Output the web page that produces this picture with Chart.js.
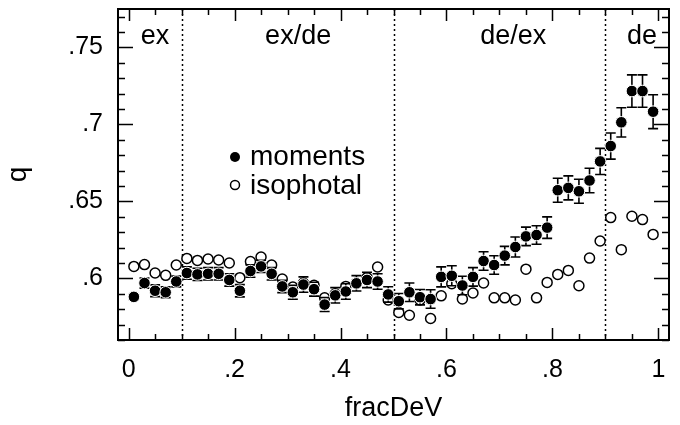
<!DOCTYPE html>
<html>
<head>
<meta charset="utf-8">
<title>q vs fracDeV</title>
<script src="https://cdn.jsdelivr.net/npm/chart.js@4.4.1/dist/chart.umd.min.js"></script>
<style>
  html, body { margin: 0; padding: 0; background: #fff; }
  #wrap { width: 680px; height: 425px; }
</style>
</head>
<body>
<div id="wrap"><canvas id="chart" width="680" height="425"></canvas></div>
<script>
// --- data ---
const fracDeV = [0.01, 0.03, 0.05, 0.07, 0.09, 0.11, 0.13, 0.15, 0.17, 0.19,
                 0.21, 0.23, 0.25, 0.27, 0.29, 0.31, 0.33, 0.35, 0.37, 0.39,
                 0.41, 0.43, 0.45, 0.47, 0.49, 0.51, 0.53, 0.55, 0.57, 0.59,
                 0.61, 0.63, 0.65, 0.67, 0.69, 0.71, 0.73, 0.75, 0.77, 0.79,
                 0.81, 0.83, 0.85, 0.87, 0.89, 0.91, 0.93, 0.95, 0.97, 0.99];

const qMoments = [0.588, 0.597, 0.592, 0.591, 0.598, 0.6035, 0.6026, 0.603, 0.603, 0.599,
                  0.592, 0.6048, 0.6078, 0.603, 0.5948, 0.591, 0.596, 0.593, 0.583, 0.589,
                  0.5915, 0.5968, 0.599, 0.598, 0.5896, 0.5852, 0.591, 0.5878, 0.5866, 0.601,
                  0.6017, 0.5954, 0.601, 0.6113, 0.6087, 0.6148, 0.6204, 0.6273, 0.6282, 0.633,
                  0.6573, 0.6588, 0.6566, 0.6636, 0.676, 0.686, 0.7014, 0.7217, 0.7217, 0.7083];

const qMomentsErr = [0.002, 0.0033, 0.0038, 0.0035, 0.0035, 0.004, 0.004, 0.004, 0.004, 0.004,
                     0.004, 0.004, 0.004, 0.004, 0.004, 0.0045, 0.005, 0.0045, 0.0045, 0.005,
                     0.005, 0.005, 0.005, 0.005, 0.005, 0.005, 0.006, 0.005, 0.006, 0.0065,
                     0.0065, 0.006, 0.006, 0.006, 0.006, 0.006, 0.0065, 0.006, 0.006, 0.007,
                     0.0078, 0.0078, 0.0078, 0.008, 0.0085, 0.0085, 0.0095, 0.0105, 0.0105, 0.011];

const qIsophotal = [0.6078, 0.609, 0.6035, 0.602, 0.6087, 0.613, 0.6117, 0.6126, 0.612, 0.610,
                    0.6005, 0.611, 0.6139, 0.6087, 0.5996, 0.5944, 0.597, 0.5955, 0.5874, 0.590,
                    0.5948, 0.597, 0.6005, 0.6074, 0.586, 0.5779, 0.5761, 0.586, 0.574, 0.5887,
                    0.5965, 0.5866, 0.5905, 0.597, 0.5874, 0.5874, 0.586, 0.606, 0.5874, 0.5974,
                    0.6026, 0.6052, 0.5952, 0.6132, 0.6243, 0.6395, 0.6187, 0.6404, 0.6382, 0.6286];

const xTicks = [0, 0.2, 0.4, 0.6, 0.8, 1];
const yTicks = [0.6, 0.65, 0.7, 0.75];
const regionBounds = [0.1, 0.5, 0.9];
const regionLabels = ['ex', 'ex/de', 'de/ex', 'de'];
const regionLabelX = [0.05, 0.32, 0.726, 0.969];
const seriesNames = ['moments', 'isophotal'];

const FONT = '"Liberation Sans", Arial, Helvetica, sans-serif';

// ".65" style labels, no leading zero
function fmtTick(v) {
    return String(+Number(v).toFixed(2)).replace(/^0\./, '.');
}

// Frame, inward ticks, dotted region lines, region names, legend, error bars
const decorPlugin = {
    id: 'decor',
    beforeDatasetsDraw(chart) {
        const { ctx, chartArea: a, scales: { x } } = chart;
        ctx.save();
        ctx.strokeStyle = '#000';
        ctx.lineWidth = 1.5;
        ctx.setLineDash([2, 3]);
        regionBounds.forEach(b => {
            const px = Math.round(x.getPixelForValue(b)) + 0.5;
            ctx.beginPath();
            ctx.moveTo(px, a.top);
            ctx.lineTo(px, a.bottom);
            ctx.stroke();
        });
        ctx.setLineDash([]);
        ctx.fillStyle = '#000';
        ctx.font = '27px ' + FONT;
        ctx.textAlign = 'center';
        ctx.textBaseline = 'alphabetic';
        regionLabels.forEach((t, i) => {
            ctx.fillText(t, x.getPixelForValue(regionLabelX[i]), a.top + 35);
        });
        ctx.restore();
    },
    afterDatasetDraw(chart, args) {
        // error bars go on top of the open circles, under the filled ones
        if (args.index !== 1) return;
        const { ctx, scales: { x, y } } = chart;
        ctx.save();
        ctx.strokeStyle = '#000';
        ctx.lineWidth = 1.6;
        fracDeV.forEach((f, i) => {
            const px = x.getPixelForValue(f);
            const y0 = y.getPixelForValue(qMoments[i] - qMomentsErr[i]);
            const y1 = y.getPixelForValue(qMoments[i] + qMomentsErr[i]);
            ctx.beginPath();
            ctx.moveTo(px, y0); ctx.lineTo(px, y1);
            ctx.moveTo(px - 5, y0); ctx.lineTo(px + 5, y0);
            ctx.moveTo(px - 5, y1); ctx.lineTo(px + 5, y1);
            ctx.stroke();
        });
        ctx.restore();
    },
    afterDraw(chart) {
        const { ctx, chartArea: a, scales: { x, y } } = chart;
        ctx.save();
        ctx.strokeStyle = '#000';

        // ticks on all four sides, pointing inwards
        ctx.lineWidth = 1.5;
        ctx.beginPath();
        for (let k = 0; k <= 20; k++) {
            const v = k * 0.05;
            const px = Math.round(x.getPixelForValue(v)) + 0.5;
            const len = (k % 4 === 0) ? 12 : 6;
            ctx.moveTo(px, a.bottom); ctx.lineTo(px, a.bottom - len);
            ctx.moveTo(px, a.top); ctx.lineTo(px, a.top + len);
        }
        for (let k = 56; k <= 77; k++) {
            const v = k / 100;
            const py = Math.round(y.getPixelForValue(v)) + 0.5;
            const len = (k % 5 === 0) ? 15 : 7;
            ctx.moveTo(a.left, py); ctx.lineTo(a.left + len, py);
            ctx.moveTo(a.right, py); ctx.lineTo(a.right - len, py);
        }
        ctx.stroke();

        // frame
        ctx.lineWidth = 2;
        ctx.strokeRect(a.left, a.top, a.right - a.left, a.bottom - a.top);

        // legend
        const lx = a.left + 117;
        ctx.fillStyle = '#000';
        ctx.beginPath();
        ctx.arc(lx, a.top + 148, 5, 0, Math.PI * 2);
        ctx.fill();
        ctx.fillStyle = '#fff';
        ctx.lineWidth = 1.5;
        ctx.beginPath();
        ctx.arc(lx, a.top + 176, 4.5, 0, Math.PI * 2);
        ctx.fill();
        ctx.stroke();
        ctx.fillStyle = '#000';
        ctx.font = '28px ' + FONT;
        ctx.textAlign = 'left';
        ctx.textBaseline = 'alphabetic';
        ctx.fillText(seriesNames[0], lx + 15, a.top + 156);
        ctx.fillText(seriesNames[1], lx + 15, a.top + 184.5);
        ctx.restore();
    }
};

const ctx = document.getElementById('chart');
new Chart(ctx, {
    type: 'scatter',
    data: {
        datasets: [
            {
                label: seriesNames[0],
                data: fracDeV.map((f, i) => ({ x: f, y: qMoments[i] })),
                pointRadius: 5.8,
                pointBackgroundColor: '#000',
                pointBorderColor: '#fff',
                pointBorderWidth: 1,
                pointHoverRadius: 5.8
            },
            {
                label: seriesNames[1],
                data: fracDeV.map((f, i) => ({ x: f, y: qIsophotal[i] })),
                pointRadius: 5,
                pointBackgroundColor: '#fff',
                pointBorderColor: '#000',
                pointBorderWidth: 1.5,
                pointHoverRadius: 5
            }
        ]
    },
    options: {
        responsive: false,
        animation: false,
        devicePixelRatio: 1,
        layout: { padding: { top: 9, right: 11, left: 0, bottom: 0 } },
        plugins: {
            legend: { display: false },
            tooltip: { enabled: false }
        },
        scales: {
            x: {
                type: 'linear',
                min: -0.02,
                max: 1.02,
                afterBuildTicks: s => { s.ticks = xTicks.map(v => ({ value: v })); },
                afterFit: s => {
                    s.height = 85;
                    s.paddingLeft = 0;
                    s.paddingRight = 0;
                },
                grid: { display: false, drawTicks: false },
                border: { display: false },
                ticks: {
                    callback: v => fmtTick(v),
                    color: '#000',
                    font: { family: FONT, size: 25 },
                    padding: 15,
                    maxRotation: 0,
                    autoSkip: false
                },
                title: {
                    display: true,
                    text: 'fracDeV',
                    color: '#000',
                    font: { family: FONT, size: 27 },
                    padding: 0
                }
            },
            y: {
                type: 'linear',
                min: 0.56,
                max: 0.775,
                afterBuildTicks: s => { s.ticks = yTicks.map(v => ({ value: v })); },
                afterFit: s => {
                    s.width = 118;
                    s.paddingTop = 0;
                    s.paddingBottom = 0;
                },
                grid: { display: false, drawTicks: false },
                border: { display: false },
                ticks: {
                    callback: v => fmtTick(v),
                    color: '#000',
                    font: { family: FONT, size: 25 },
                    padding: 15,
                    autoSkip: false
                },
                title: {
                    display: true,
                    text: 'q',
                    color: '#000',
                    font: { family: FONT, size: 28 },
                    padding: 1
                }
            }
        }
    },
    plugins: [decorPlugin]
});
</script>
</body>
</html>
